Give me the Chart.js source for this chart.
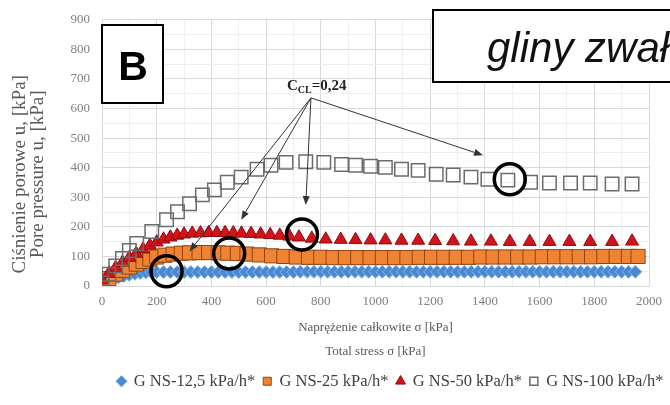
<!DOCTYPE html>
<html><head><meta charset="utf-8">
<script src="https://cdn.jsdelivr.net/npm/chart.js@4/dist/chart.umd.min.js"></script>
<style>html,body{margin:0;padding:0;background:#fff;}canvas{display:block;}</style>
</head><body>
<canvas id="c" width="670" height="405"></canvas>
<script>
// ---- data ----
const seriesNames = ["G NS-12,5 kPa/h*", "G NS-25 kPa/h*", "G NS-50 kPa/h*", "G NS-100 kPa/h*"];

const blueX = [0,20,40,60,80,100,120,140,160,180,200,225,250,275,300,325,350,375,400,425,450,475,500,525,550,575,600,625,650,675,700,725,750,775,800,825,850,875,900,925,950,975,1000,1025,1050,1075,1100,1125,1150,1175,1200,1225,1250,1275,1300,1325,1350,1375,1400,1425,1450,1475,1500,1525,1550,1575,1600,1625,1650,1675,1700,1725,1750,1775,1800,1825,1850,1875,1900,1925,1950];
const blueY = [6,14,22,29,34,38,41,44,46,47,47,47,47,47,47,47,47,47,47,47,47,47,47,47,47,47,47,47,47,47,47,48,48,48,48,48,48,48,48,48,48,48,48,48,48,48,48,48,48,48,48,48,48,48,48,48,48,48,48,48,48,48,48,48,48,48,48,48,48,48,48,48,48,48,48,48,48,48,48,48,48];

const orangeX = [0,25,50,75,100,125,150,175,200,230,260,290,320,355,390,425,460,495,530,575,620,665,710,755,800,845,890,935,980,1025,1070,1115,1160,1205,1250,1295,1340,1385,1430,1475,1520,1565,1610,1655,1700,1745,1790,1835,1880,1925,1960];
const orangeY = [10,25,40,53,64,74,83,91,98,104,108,111,112,113,113,112,111,110,108,105,102,100,98,97,97,96,96,96,96,96,96,96,97,97,97,97,97,98,98,98,98,98,99,99,99,99,99,100,100,100,100];

const redX = [0,25,50,75,100,125,150,175,200,225,250,275,300,330,360,390,420,450,480,510,545,580,615,650,685,720,767,818,873,927,982,1036,1095,1156,1218,1284,1349,1422,1491,1564,1636,1709,1785,1865,1938];
const redY = [20,42,62,80,96,110,124,137,148,158,165,171,175,178,179,180,180,180,179,178,177,175,173,171,168,165,161,158,157,156,155,155,154,154,153,152,151,151,150,150,150,150,150,150,151];

const hollowX = [0,25,50,75,100,127,182,236,276,320,367,411,458,509,567,618,673,745,811,876,927,982,1036,1095,1156,1222,1284,1349,1411,1484,1567,1636,1713,1785,1865,1938];
const hollowY = [10,40,68,93,120,144,184,224,251,278,308,325,351,368,395,408,418,420,418,411,408,405,401,395,391,378,375,368,361,358,351,348,348,348,345,345];

const xTickLabels = [0,200,400,600,800,1000,1200,1400,1600,1800,2000];
const yTickLabels = [0,100,200,300,400,500,600,700,800,900];

const xTitle = ["Naprężenie całkowite σ [kPa]", "Total stress σ [kPa]"];
const yTitle = ["Ciśnienie porowe u, [kPa]", "Pore pressure u, [kPa]"];

const calloutLabel = ["C", "CL", "=0,24"];
const calloutApex = [764, 636];
const calloutText = [785, 679];
const arrowEnds = [[320,117],[509,224],[745,274],[1393,442]];
const circleCenters = [[236,50],[465,110],[731,174],[1491,361]];
const panelLetter = "B";
const panelTitle = "gliny zwał";

// ---- build ----
const pts = (xs, ys) => xs.map((v,i)=>({x:v, y:ys[i]}));
const SERIF = "'Liberation Serif', 'Times New Roman', serif";
const PAD = '         ';

const annot = {
  id: 'annot',
  afterLayout(chart) {
    const lg = chart.legend;
    if (lg) {
      const dx = 390.5 - (lg.left + lg.right) / 2;
      lg.left += dx; lg.right += dx;
    }
  },
  afterDatasetsDraw(chart) {
    const {ctx, scales:{x, y}} = chart;
    ctx.save();
    const ax = x.getPixelForValue(calloutApex[0]), ay = y.getPixelForValue(calloutApex[1]);
    ctx.strokeStyle = '#333'; ctx.fillStyle = '#333'; ctx.lineWidth = 1;
    arrowEnds.forEach(([ex, ey]) => {
      const px = x.getPixelForValue(ex), py = y.getPixelForValue(ey);
      const ang = Math.atan2(py - ay, px - ax);
      const L = 9, W = 3.5;
      const bx = px - Math.cos(ang)*L, by = py - Math.sin(ang)*L;
      ctx.beginPath(); ctx.moveTo(ax, ay); ctx.lineTo(bx, by); ctx.stroke();
      ctx.beginPath();
      ctx.moveTo(px, py);
      ctx.lineTo(bx + Math.sin(ang)*W, by - Math.cos(ang)*W);
      ctx.lineTo(bx - Math.sin(ang)*W, by + Math.cos(ang)*W);
      ctx.closePath(); ctx.fill();
    });
    ctx.strokeStyle = '#000'; ctx.lineWidth = 3.5;
    circleCenters.forEach(([cx, cy]) => {
      ctx.beginPath();
      ctx.arc(x.getPixelForValue(cx), y.getPixelForValue(cy), 15.5, 0, Math.PI*2);
      ctx.stroke();
    });
    const tx = x.getPixelForValue(calloutText[0]), ty = y.getPixelForValue(calloutText[1]);
    ctx.fillStyle = '#222';
    ctx.textBaseline = 'alphabetic';
    ctx.font = "bold 15px " + SERIF;
    const w1 = ctx.measureText(calloutLabel[0]).width;
    ctx.font = "bold 10px " + SERIF;
    const w2 = ctx.measureText(calloutLabel[1]).width;
    ctx.font = "bold 15px " + SERIF;
    const w3 = ctx.measureText(calloutLabel[2]).width;
    const sx = tx - (w1+w2+w3)/2;
    const base = ty + 5;
    ctx.fillText(calloutLabel[0], sx, base);
    ctx.font = "bold 10px " + SERIF;
    ctx.fillText(calloutLabel[1], sx + w1, base + 3);
    ctx.font = "bold 15px " + SERIF;
    ctx.fillText(calloutLabel[2], sx + w1 + w2, base);
    ctx.restore();
  },
  afterDraw(chart) {
    const ctx = chart.ctx;
    ctx.save();
    ctx.fillStyle = '#fff'; ctx.fillRect(102, 25, 61, 78);
    ctx.strokeStyle = '#000'; ctx.lineWidth = 2;
    ctx.strokeRect(102, 25, 61, 78);
    ctx.fillStyle = '#000';
    ctx.font = "bold 41px 'Liberation Sans', Arial, sans-serif";
    ctx.textAlign = 'center'; ctx.textBaseline = 'alphabetic';
    ctx.fillText(panelLetter, 133, 80);
    ctx.fillStyle = '#fff'; ctx.fillRect(433, 10, 250, 72);
    ctx.strokeStyle = '#000'; ctx.lineWidth = 2;
    ctx.strokeRect(433, 10, 250, 72);
    ctx.fillStyle = '#111';
    ctx.font = "italic 42px 'Liberation Sans', Arial, sans-serif";
    ctx.textAlign = 'left';
    ctx.fillText(panelTitle, 487, 62);
    ctx.restore();
  }
};

new Chart(document.getElementById('c'), {
  type: 'scatter',
  data: {
    datasets: [
      { label: seriesNames[0], data: pts(blueX, blueY), pointStyle: 'rectRot', pointRadius: 6.5, pointHoverRadius: 6.5,
        backgroundColor: '#4a89d1', borderColor: '#86b6e8', borderWidth: 1, order: 4 },
      { label: seriesNames[1], data: pts(orangeX, orangeY), pointStyle: 'rect', pointRadius: 10, pointHoverRadius: 10,
        backgroundColor: '#ef8434', borderColor: '#8f4512', borderWidth: 1, order: 3 },
      { label: seriesNames[2], data: pts(redX, redY), pointStyle: 'triangle', pointRadius: 7.5, pointHoverRadius: 7.5,
        backgroundColor: '#d3131b', borderColor: '#8e0c10', borderWidth: 1, order: 2 },
      { label: seriesNames[3], data: pts(hollowX, hollowY), pointStyle: 'rect', pointRadius: 9.5, pointHoverRadius: 9.5,
        backgroundColor: 'rgba(255,255,255,0)', borderColor: '#6b6b6b', borderWidth: 1.5, order: 1 }
    ]
  },
  options: {
    responsive: false,
    animation: false,
    events: [],
    layout: { padding: { left: 0, right: 18, top: 16, bottom: 5.5 } },
    plugins: {
      tooltip: { enabled: false },
      legend: {
        position: 'bottom',
        labels: {
          usePointStyle: true, boxWidth: 8, boxHeight: 8, padding: 8,
          color: '#404040', font: { family: SERIF, size: 16.5 },
          sort: (a, b) => a.datasetIndex - b.datasetIndex
        }
      }
    },
    scales: {
      x: {
        type: 'linear', min: 0, max: 2000,
        afterFit: s => { s.height = 79; },
        ticks: { stepSize: 100, autoSkip: false, maxRotation: 0, padding: 8, color: '#7f7f7f',
          font: { family: SERIF, size: 13 },
          callback: v => xTickLabels.includes(v) ? String(v) : '' },
        grid: { drawTicks: false, color: c => (c.tick && c.tick.value % 200 === 0) ? '#d9d9d9' : '#efefef' },
        border: { color: '#d9d9d9' },
        title: { display: true, text: xTitle, color: '#595959', font: { family: SERIF, size: 13, lineHeight: 24/13 },
          padding: { top: 0, bottom: 1 } }
      },
      y: {
        type: 'linear', min: 0, max: 900,
        afterFit: s => { s.width = 102; },
        ticks: { stepSize: 50, autoSkip: false, padding: 12, color: '#7f7f7f',
          font: { family: SERIF, size: 13 },
          callback: v => yTickLabels.includes(v) ? String(v) : '' },
        grid: { drawTicks: false, color: c => (c.tick && c.tick.value % 100 === 0) ? '#d9d9d9' : '#efefef' },
        border: { color: '#d9d9d9' },
        title: { display: true, text: yTitle.map(t => t + PAD), color: '#595959',
          font: { family: SERIF, size: 19, lineHeight: 18/19 }, padding: { top: 11, bottom: 0 } }
      }
    }
  },
  plugins: [annot]
});
</script>
</body></html>
